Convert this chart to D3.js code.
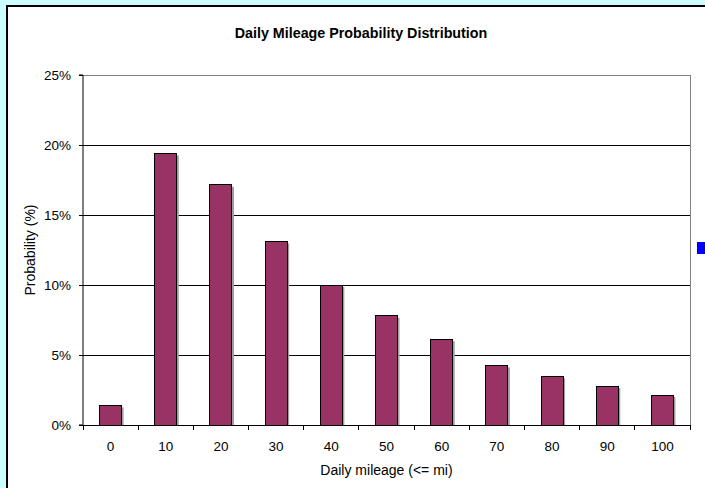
<!DOCTYPE html>
<html>
<head>
<meta charset="utf-8">
<script src="https://cdn.jsdelivr.net/npm/d3@7"></script>
<style>
  body { margin: 0; background: #ccffff; }
  svg { display: block; font-family: "Liberation Sans", Arial, sans-serif; }
</style>
</head>
<body>
<svg id="chart" width="705" height="488"></svg>
<script>
// values
var miles = ["0", "10", "20", "30", "40", "50", "60", "70", "80", "90", "100"];
var prob = [1.4, 19.4, 17.15, 13.1, 10.0, 7.8, 6.13, 4.25, 3.48, 2.77, 2.13];
var yTicks = [0, 5, 10, 15, 20, 25];

var svg = d3.select("#chart");

// white chart area with its black frame
svg.append("rect")
    .attr("x", 7).attr("y", 6)
    .attr("width", 720).attr("height", 500)
    .attr("fill", "#fff")
    .attr("stroke", "#000")
    .attr("stroke-width", 2);

// plot area edges (note: "top" is taken by window.top)
var pLeft = 83, pTop = 75, pRight = 690, pBottom = 425;

var x = d3.scaleBand().domain(miles).range([pLeft, pRight]).paddingInner(0.6).paddingOuter(0.3);
var band = d3.scaleBand().domain(miles).range([pLeft, pRight]);
var y = d3.scaleLinear().domain([0, 25]).range([pBottom, pTop]);

// title
svg.append("text")
    .attr("x", 361).attr("y", 38)
    .attr("text-anchor", "middle")
    .attr("font-size", 14.3).attr("font-weight", "bold")
    .text("Daily Mileage Probability Distribution");

// gridlines
svg.append("g").selectAll("line")
  .data(yTicks.filter(function(d) { return d > 0 && d < 25; }))
  .enter().append("line")
    .attr("x1", pLeft).attr("x2", pRight)
    .attr("y1", function(d) { return y(d); })
    .attr("y2", function(d) { return y(d); })
    .attr("stroke", "#000").attr("stroke-width", 1)
    .attr("shape-rendering", "crispEdges");

// plot area border (top and right, grey)
svg.append("path")
    .attr("d", "M" + pLeft + "," + pTop + "H" + pRight + "V" + pBottom)
    .attr("fill", "none").attr("stroke", "#808080")
    .attr("shape-rendering", "crispEdges");

// bars with a little shadow
var bars = svg.append("g");
bars.selectAll("rect.shadow")
  .data(prob)
  .enter().append("rect")
    .attr("class", "shadow")
    .attr("x", function(d, i) { return x(miles[i]) + 2; })
    .attr("y", function(d) { return y(d) + 2; })
    .attr("width", x.bandwidth())
    .attr("height", function(d) { return pBottom - y(d) - 2; })
    .attr("fill", "#a0a0a0");
bars.selectAll("rect.bar")
  .data(prob)
  .enter().append("rect")
    .attr("class", "bar")
    .attr("x", function(d, i) { return x(miles[i]); })
    .attr("y", function(d) { return y(d); })
    .attr("width", x.bandwidth())
    .attr("height", function(d) { return pBottom - y(d); })
    .attr("fill", "#993366")
    .attr("stroke", "#000").attr("stroke-width", 1)
    .attr("shape-rendering", "crispEdges");

// y axis
var yAxis = svg.append("g")
    .attr("transform", "translate(" + pLeft + ",0)")
    .call(d3.axisLeft(y).tickValues(yTicks).tickSize(4).tickPadding(8)
      .tickFormat(function(d) { return d + "%"; }));
yAxis.select(".domain").attr("stroke", "#000").attr("d", "M-4," + pTop + "H0V" + pBottom + "H-4");
yAxis.selectAll("text").attr("font-size", 13.5).attr("fill", "#000");
yAxis.attr("font-family", null).attr("font-size", null);
yAxis.selectAll("line").attr("stroke", "#000");

// x axis, ticks between categories
var xAxis = svg.append("g")
    .attr("transform", "translate(0," + pBottom + ")");
xAxis.append("line")
    .attr("x1", pLeft).attr("x2", pRight)
    .attr("stroke", "#000")
    .attr("shape-rendering", "crispEdges");
xAxis.selectAll("line.tick")
  .data(miles.concat(["end"]))
  .enter().append("line")
    .attr("class", "tick")
    .attr("x1", function(d, i) { return i < miles.length ? band(d) : pRight; })
    .attr("x2", function(d, i) { return i < miles.length ? band(d) : pRight; })
    .attr("y1", 0).attr("y2", 5)
    .attr("stroke", "#000")
    .attr("shape-rendering", "crispEdges");
xAxis.selectAll("text")
  .data(miles)
  .enter().append("text")
    .attr("x", function(d) { return band(d) + band.bandwidth() / 2; })
    .attr("y", 26)
    .attr("text-anchor", "middle")
    .attr("font-size", 13.5)
    .text(function(d) { return d; });

// axis titles
svg.append("text")
    .attr("x", (pLeft + pRight) / 2).attr("y", 475)
    .attr("text-anchor", "middle")
    .attr("font-size", 14)
    .text("Daily mileage (<= mi)");
svg.append("text")
    .attr("transform", "translate(35," + (pTop + pBottom) / 2 + ") rotate(-90)")
    .attr("text-anchor", "middle")
    .attr("font-size", 14)
    .text("Probability (%)");

// stray legend key at the right edge
svg.append("rect")
    .attr("x", 697).attr("y", 242)
    .attr("width", 8).attr("height", 12)
    .attr("fill", "#0000ff");
</script>
</body>
</html>
